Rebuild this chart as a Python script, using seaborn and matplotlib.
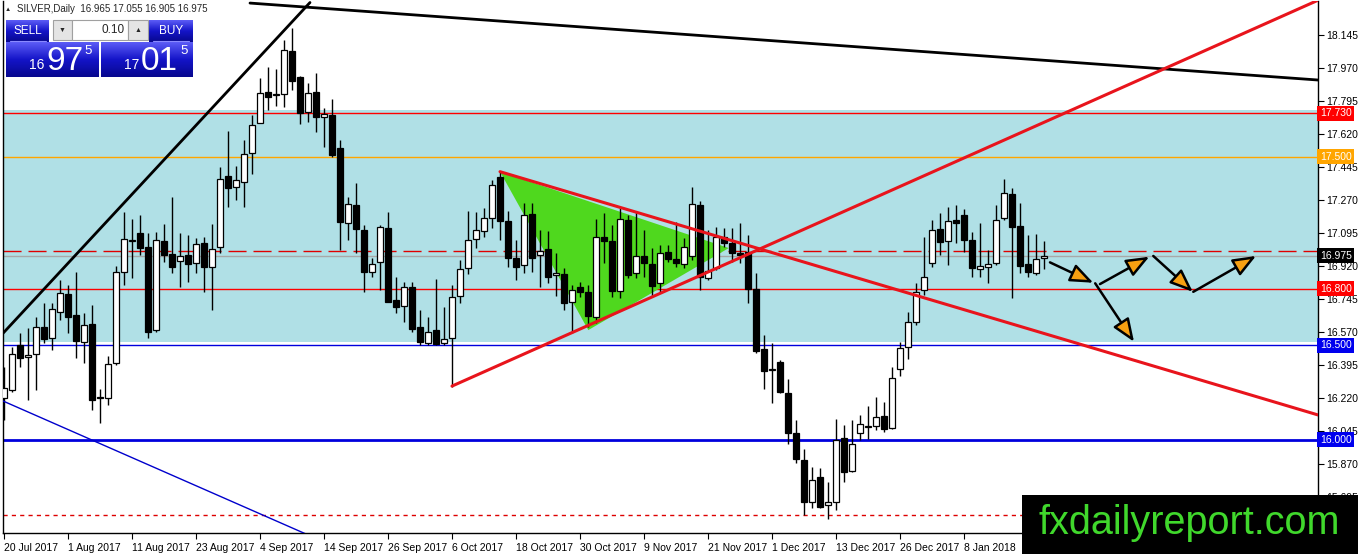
import numpy as np
import seaborn as sns
import matplotlib.pyplot as plt
from matplotlib import font_manager
from matplotlib.patches import Rectangle
from matplotlib.colors import LinearSegmentedColormap

# === 1. Datos ===
opens = [16.221, 16.263, 16.502, 16.438, 16.454, 16.597, 16.539, 16.677, 16.772, 16.661,
         16.518, 16.613, 16.226, 16.221, 16.406, 16.889, 17.054, 17.096, 17.021, 16.582,
         17.053, 16.984, 16.947, 16.979, 16.937, 17.043, 16.915, 17.021, 17.398, 17.340,
         17.366, 17.520, 17.679, 17.843, 17.827, 17.833, 18.061, 17.923, 17.737, 17.843,
         17.711, 17.721, 17.546, 17.149, 17.244, 17.112, 16.889, 16.942, 17.122, 16.740,
         16.709, 16.809, 16.597, 16.512, 16.581, 16.512, 16.539, 16.762, 16.910, 17.064,
         17.106, 17.175, 17.393, 17.159, 16.963, 16.926, 17.196, 16.979, 17.011, 16.873,
         16.878, 16.730, 16.809, 16.783, 16.650, 17.075, 17.053, 16.788, 17.165, 16.884,
         16.974, 16.931, 16.830, 16.995, 16.958, 16.931, 16.974, 17.244, 16.857, 16.910,
         17.075, 17.043, 16.990, 16.995, 16.799, 16.481, 16.369, 16.412, 16.247, 16.035,
         15.892, 15.669, 15.802, 15.654, 15.669, 16.009, 15.834, 16.035, 16.067, 16.072,
         16.125, 16.062, 16.374, 16.491, 16.624, 16.793, 16.937, 17.117, 17.053, 17.165,
         17.191, 17.059, 16.905, 16.915, 16.937, 17.175, 17.303, 17.133, 16.931, 16.884,
         16.965]
highs = [16.385, 16.491, 16.565, 16.592, 16.650, 16.724, 16.724, 16.846, 16.820, 16.889,
         16.671, 16.714, 16.268, 16.443, 16.921, 17.207, 17.170, 17.191, 17.096, 17.101,
         17.143, 17.287, 17.096, 17.085, 17.069, 17.075, 17.143, 17.446, 17.636, 17.451,
         17.589, 17.721, 17.917, 17.976, 17.965, 18.119, 18.183, 17.928, 17.891, 17.944,
         17.758, 17.806, 17.589, 17.287, 17.361, 17.138, 16.963, 17.138, 17.207, 16.862,
         16.836, 16.836, 16.687, 16.650, 16.852, 16.703, 16.820, 16.953, 17.212, 17.207,
         17.228, 17.377, 17.419, 17.212, 17.059, 17.255, 17.255, 17.112, 17.106, 16.990,
         16.910, 16.820, 16.836, 16.820, 17.170, 17.202, 17.138, 17.228, 17.191, 17.207,
         17.112, 17.016, 17.032, 17.032, 17.154, 17.069, 17.340, 17.265, 17.112, 17.127,
         17.122, 17.122, 17.148, 17.085, 16.884, 16.555, 16.512, 16.420, 16.321, 16.104,
         15.950, 15.855, 15.850, 15.775, 16.109, 16.077, 16.104, 16.130, 16.178, 16.226,
         16.200, 16.385, 16.518, 16.677, 16.831, 17.075, 17.165, 17.202, 17.233, 17.244,
         17.223, 17.101, 17.149, 17.006, 17.244, 17.382, 17.334, 17.255, 17.085, 17.090,
         17.055]
lows = [16.104, 16.252, 16.385, 16.210, 16.263, 16.513, 16.475, 16.634, 16.565, 16.433,
        16.406, 16.157, 16.088, 16.184, 16.396, 16.820, 16.857, 16.979, 16.539, 16.571,
        16.942, 16.884, 16.809, 16.836, 16.884, 16.783, 16.687, 16.990, 17.234, 17.271,
        17.234, 17.409, 17.679, 17.748, 17.769, 17.764, 17.854, 17.674, 17.684, 17.631,
        17.552, 17.499, 17.006, 17.059, 16.990, 16.783, 16.862, 16.793, 16.730, 16.671,
        16.624, 16.571, 16.502, 16.502, 16.502, 16.502, 16.279, 16.724, 16.878, 17.016,
        17.075, 17.122, 17.059, 16.915, 16.846, 16.884, 16.889, 16.809, 16.831, 16.762,
        16.687, 16.565, 16.756, 16.597, 16.618, 16.937, 16.756, 16.751, 16.857, 16.857,
        16.862, 16.762, 16.778, 16.942, 16.915, 16.910, 16.953, 16.793, 16.846, 16.900,
        17.021, 16.942, 16.937, 16.724, 16.459, 16.268, 16.194, 16.245, 15.977, 15.876,
        15.600, 15.638, 15.635, 15.579, 15.627, 15.775, 15.828, 15.998, 16.003, 16.051,
        16.040, 16.056, 16.337, 16.427, 16.608, 16.767, 16.915, 16.979, 16.926, 17.043,
        16.995, 16.862, 16.862, 16.831, 16.926, 17.165, 16.751, 16.884, 16.862, 16.873,
        16.905]
closes = [16.274, 16.454, 16.433, 16.449, 16.597, 16.534, 16.693, 16.777, 16.650, 16.523,
          16.608, 16.210, 16.221, 16.401, 16.889, 17.064, 17.059, 17.016, 16.571, 17.059,
          16.979, 16.915, 16.974, 16.931, 17.037, 16.915, 17.011, 17.382, 17.334, 17.377,
          17.515, 17.668, 17.838, 17.817, 17.831, 18.066, 17.902, 17.732, 17.838, 17.711,
          17.727, 17.509, 17.154, 17.250, 17.117, 16.889, 16.931, 17.127, 16.730, 16.703,
          16.809, 16.587, 16.518, 16.571, 16.507, 16.534, 16.756, 16.905, 17.059, 17.112,
          17.175, 17.350, 17.159, 16.963, 16.915, 17.191, 16.963, 17.000, 16.862, 16.884,
          16.724, 16.793, 16.783, 16.656, 17.075, 17.053, 16.788, 17.170, 16.873, 16.974,
          16.937, 16.814, 16.990, 16.958, 16.937, 17.021, 17.250, 16.862, 16.894, 17.075,
          17.043, 16.990, 16.979, 16.799, 16.470, 16.364, 16.371, 16.252, 16.035, 15.897,
          15.669, 15.786, 15.643, 15.669, 15.998, 15.828, 15.977, 16.083, 16.072, 16.120,
          16.056, 16.327, 16.486, 16.624, 16.783, 16.862, 17.112, 17.048, 17.159, 17.149,
          17.059, 16.910, 16.921, 16.931, 17.165, 17.308, 17.127, 16.921, 16.889, 16.958,
          16.975]

date_labels = ["20 Jul 2017", "1 Aug 2017", "11 Aug 2017", "23 Aug 2017", "4 Sep 2017",
               "14 Sep 2017", "26 Sep 2017", "6 Oct 2017", "18 Oct 2017", "30 Oct 2017",
               "9 Nov 2017", "21 Nov 2017", "1 Dec 2017", "13 Dec 2017", "26 Dec 2017",
               "8 Jan 2018"]
date_bars = [0, 8, 16, 24, 32, 40, 48, 56, 64, 72, 80, 88, 96, 104, 112, 120]
price_ticks = [18.145, 17.970, 17.795, 17.620, 17.445, 17.270, 17.095, 16.920,
               16.745, 16.570, 16.395, 16.220, 16.045, 15.870, 15.695]

# niveles horizontales y etiquetas de precio
zone = [16.52, 17.75]
level_prices = [17.730, 17.500, 16.800, 16.500, 16.000]
level_colors = ["#ff0000", "#ffa500", "#ff0000", "#0000dd", "#0000dd"]
bid_price = 16.975
dash_price = 17.000
low_dotted = 15.600

# lineas de tendencia (barra, precio)
black_up = ([-0.125, 38.25], [16.564, 18.318])
black_down = ([30.75, 164.25], [18.315, 17.907])
blue_down = ([-0.125, 38.0], [16.205, 15.495])
red_down = ([62, 164.25], [17.421, 16.131])
red_up = ([56, 164.25], [16.284, 18.330])
tri_bars = [62, 73.04, 90.6]
tri_prices = [17.421, 16.581, 17.016]

# flechas de escenario: (inicio, punta)
arrows = [((130.75, 16.940), (136.16, 16.832)),
          ((136.4, 16.829), (141.25, 16.519)),
          ((137.0, 16.825), (143.16, 16.970)),
          ((143.66, 16.974), (148.6, 16.784)),
          ((148.66, 16.784), (156.5, 16.974))]

# === 2. Estilo ===
sns.set_style("white")
names = {f.name for f in font_manager.fontManager.ttflist}
narrow = "Liberation Sans Narrow" if "Liberation Sans Narrow" in names else "Liberation Sans"
plt.rcParams["font.family"] = [narrow, "DejaVu Sans"]

W, H = 1358, 554
fig = plt.figure(figsize=(W / 100, H / 100), dpi=100)
ax = fig.add_axes([3 / W, 21 / H, 1315 / W, 532 / H])

# === 3. Fondo, niveles ===
ax.axhspan(zone[0], zone[1], color="#b0e0e6", lw=0, zorder=0)
for p, c in zip(level_prices, level_colors):
    ax.axhline(p, color=c, lw=2 if p == 16.0 else 1, zorder=1)
ax.axhline(dash_price, color="#e00000", lw=1, ls=(0, (13, 5)), zorder=1)
ax.axhline(bid_price, color="#a8a8a8", lw=1, zorder=1)
ax.axhline(low_dotted, color="#dd0000", lw=1, ls=(0, (3, 3)), zorder=1)

ax.fill(tri_bars, tri_prices, color="#4fd81e", lw=0, zorder=1.5)

# === 4. Velas ===
x = np.arange(len(opens))
o, h, l, c = map(np.array, (opens, highs, lows, closes))
up = c >= o
ax.vlines(x, l, h, color="black", lw=1, zorder=3)
body_lo = np.minimum(o, c)
body_h = np.maximum(np.abs(c - o), 0.004)
ax.bar(x[up], body_h[up], bottom=body_lo[up], width=0.65, color="white",
       edgecolor="black", lw=0.9, zorder=4)
ax.bar(x[~up], body_h[~up], bottom=body_lo[~up], width=0.65, color="black",
       edgecolor="black", lw=0.9, zorder=4)

# === 5. Lineas de tendencia ===
for (xs, ys), col, lw in [(black_up, "black", 2), (black_down, "black", 2),
                          (blue_down, "#0000cc", 1), (red_down, "#e8141c", 2.2),
                          (red_up, "#e8141c", 2.2)]:
    sns.lineplot(x=xs, y=ys, ax=ax, color=col, lw=lw, zorder=5)

for start, tip in arrows:
    ax.annotate("", xy=tip, xytext=start,
                arrowprops=dict(arrowstyle="-|>,head_length=1.0,head_width=0.4",
                                mutation_scale=14, lw=1.8, edgecolor="black",
                                facecolor="#f7a011", shrinkA=0, shrinkB=0),
                zorder=6)

# === 6. Ejes ===
ax.set_xlim(-0.125, 164.25)
ax.set_ylim(15.505, 18.326)
ax.yaxis.tick_right()
ax.set_yticks(price_ticks)
ax.set_yticklabels([f"{v:.3f}" for v in price_ticks])
ax.set_xticks(date_bars)
ax.set_xticklabels(date_labels, ha="left")
ax.tick_params(axis="both", direction="out", length=4, width=0.8, labelsize=7.5,
               pad=2, colors="black")
ax.tick_params(axis="y", left=False, right=True)
ax.tick_params(axis="x", bottom=True, length=4, pad=3)
for side in ["left", "right", "bottom"]:
    ax.spines[side].set_color("black")
    ax.spines[side].set_linewidth(1)
ax.spines["top"].set_visible(False)
ax.set_xlabel("")
ax.set_ylabel("")

# etiquetas de precio en el eje derecho
tags = [(17.730, "#ff0000"), (17.500, "#ffa500"), (16.975, "black"),
        (16.800, "#ff0000"), (16.500, "#0000ee"), (16.000, "#0000ee")]
for p, col in tags:
    ax.text(1.0015, p, f"{p:.3f}", transform=ax.get_yaxis_transform(), ha="left",
            va="center", color="white", fontsize=7.5, clip_on=False, zorder=20,
            bbox=dict(boxstyle="square,pad=0.25", fc=col, ec="none"))

# === 7. Panel MT4 y logo ===
ov = fig.add_axes([0, 0, 1, 1], zorder=10)
ov.patch.set_alpha(0)
cmap = LinearSegmentedColormap.from_list("mt4", ["#5c5cf6", "#1414c8", "#08088e"])
grad = np.linspace(0, 1, 64).reshape(-1, 1)
for x0, y0, x1, y1 in [(6, 20, 49, 42), (149, 20, 193, 42), (6, 42, 99, 77), (101, 42, 193, 77)]:
    ov.imshow(grad, extent=(x0, x1, y1, y0), cmap=cmap, aspect="auto", zorder=1)
ov.plot([10, 46], [41, 41], color="#8a8aff", lw=0.8, zorder=2)
ov.plot([153, 189], [41, 41], color="#8a8aff", lw=0.8, zorder=2)
ov.add_patch(Rectangle((53, 20), 19, 20, fc="#e4e4e4", ec="#a0a0a0", lw=0.8, zorder=2))
ov.add_patch(Rectangle((72, 20), 56, 20, fc="white", ec="#a0a0a0", lw=0.8, zorder=2))
ov.add_patch(Rectangle((128, 20), 20, 20, fc="#e4e4e4", ec="#a0a0a0", lw=0.8, zorder=2))
ov.text(62.5, 30, "▼", fontsize=5, ha="center", va="center", zorder=3)
ov.text(138, 30, "▲", fontsize=5, ha="center", va="center", zorder=3)
ov.text(125, 30, "0.10", fontsize=8.5, ha="right", va="center", zorder=3)
ov.text(27.5, 31, "SELL", fontsize=8.5, color="white", ha="center", va="center", zorder=3)
ov.text(171, 31, "BUY", fontsize=8.5, color="white", ha="center", va="center", zorder=3)
ov.text(44, 69, "16", fontsize=10, color="white", ha="right", va="baseline", zorder=3)
ov.text(46, 70, "97", fontsize=24, color="white", ha="left", va="baseline",
        family="Liberation Sans", zorder=3)
ov.text(84, 45, "5", fontsize=9.5, color="white", ha="left", va="top", zorder=3)
ov.text(139, 69, "17", fontsize=10, color="white", ha="right", va="baseline", zorder=3)
ov.text(141, 70, "01", fontsize=24, color="white", ha="left", va="baseline",
        family="Liberation Sans", zorder=3)
ov.text(180, 45, "5", fontsize=9.5, color="white", ha="left", va="top", zorder=3)
ov.text(7.5, 9.5, "▲", fontsize=4.5, ha="center", va="center", zorder=3)
ov.text(17, 9.5, "SILVER,Daily  16.965 17.055 16.905 16.975", fontsize=7,
        ha="left", va="center", zorder=3)

ov.add_patch(Rectangle((1022, 495), 336, 59, fc="black", ec="none", zorder=4))
ov.text(1189, 534, "fxdailyreport.com", fontsize=28.5, color="#40d82c", ha="center",
        va="baseline", family="Liberation Sans", zorder=5)
ov.set_xlim(0, W)
ov.set_ylim(H, 0)
ov.axis("off")

plt.savefig("out.png", dpi=100)
plt.close()
